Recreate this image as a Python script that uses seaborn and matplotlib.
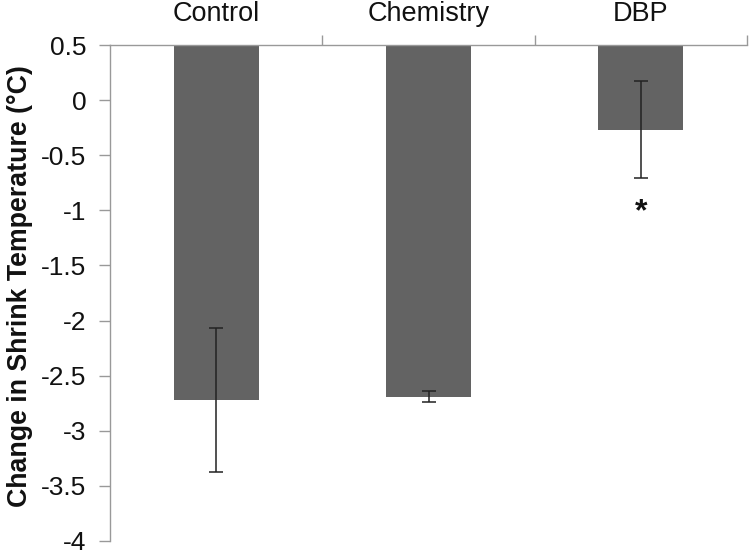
import matplotlib
matplotlib.use("Agg")
import matplotlib.pyplot as plt
import seaborn as sns
import numpy as np
from matplotlib.ticker import FixedLocator, FuncFormatter

categories = ["Control", "Chemistry", "DBP"]
values = [-2.72, -2.69, -0.27]
errors = [0.65, 0.05, 0.44]
y_ticks = [0.5, 0, -0.5, -1, -1.5, -2, -2.5, -3, -3.5, -4]
baseline = 0.5

sns.set_theme(style="white")
plt.rcParams["font.family"] = ["Liberation Sans", "DejaVu Sans"]

fig = plt.figure(figsize=(7.5, 5.55), dpi=100)
ax = fig.add_axes([110/750, 1-541/555, (747-110)/750, (541-45)/555])

heights = [v - baseline for v in values]
sns.barplot(x=categories, y=heights, bottom=baseline, color="#636363",
            saturation=1, width=0.4, errorbar=None, ax=ax, linewidth=0)
ax.errorbar(np.arange(len(categories)), values, yerr=errors, fmt="none",
            ecolor="#222222", elinewidth=1.1, capsize=5, capthick=1.1)
ax.text(2, -1.02, "*", ha="center", va="center", fontsize=23, fontweight="bold",
        color="#111111")

ax.set_ylim(-4, 0.5)
ax.set_xlim(-0.5, 2.5)
ax.set_yticks(y_ticks)
ax.yaxis.set_major_formatter(FuncFormatter(lambda v, p: ("%g" % v).replace("\u2212", "-")))
ax.tick_params(axis="y", direction="out", length=8, width=1, color="#999999",
               labelsize=19, pad=9, labelcolor="#111111", left=True)

ax.xaxis.tick_top()
ax.xaxis.set_label_position("top")
ax.tick_params(axis="x", which="major", length=0, labelsize=19.5, pad=13,
               labelcolor="#111111", top=True, bottom=False)
ax.xaxis.set_minor_locator(FixedLocator([0.5, 1.5, 2.5]))
ax.tick_params(axis="x", which="minor", direction="out", length=7, width=1,
               color="#999999", top=True, bottom=False)
ax.set_xlabel("")
ax.set_ylabel("Change in Shrink Temperature (\u00b0C)", fontsize=19.3,
              fontweight="bold", color="#111111")
ax.yaxis.set_label_coords(-0.141, 0.513)
ax.yaxis.label.set_va("center")

for s in ["right", "bottom"]:
    ax.spines[s].set_visible(False)
for s in ["left", "top"]:
    ax.spines[s].set_visible(True)
    ax.spines[s].set_color("#999999")
    ax.spines[s].set_linewidth(1)

fig.savefig("out.png", dpi=100)
